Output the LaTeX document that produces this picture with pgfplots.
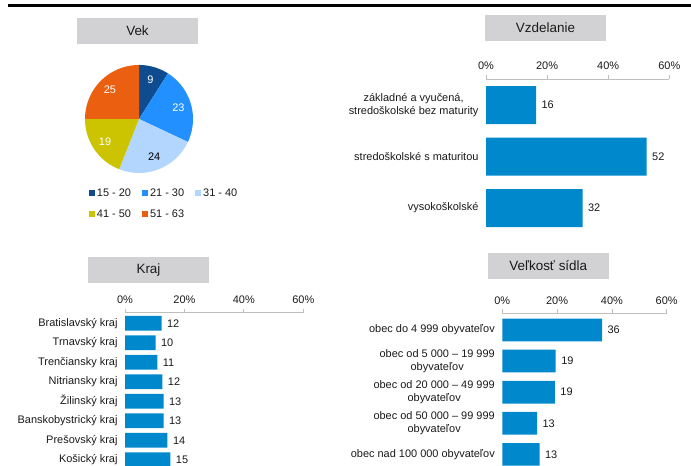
\documentclass[border=0pt]{standalone}
\usepackage{pgfplots}
\pgfplotsset{compat=1.18}
\usepackage{fontspec}
\setmainfont{Liberation Sans}
\definecolor{barblue}{HTML}{0088CC}
\definecolor{titlegray}{HTML}{D2D2D4}
\definecolor{c1}{HTML}{0F4C8F}
\definecolor{c2}{HTML}{2290FF}
\definecolor{c3}{HTML}{B3D6FF}
\definecolor{c4}{HTML}{CCC400}
\definecolor{c5}{HTML}{EB6010}
\definecolor{txt}{HTML}{1A1A1A}
\definecolor{axgray}{HTML}{BFBFBF}
\newcommand{\lbl}{\fontsize{11}{13.3}\selectfont}
\newcommand{\lblb}{\fontsize{11}{12.4}\selectfont}
\newcommand{\ttl}{\fontsize{13.5}{15}\selectfont}
\pgfplotsset{
  hbar/.style={
    xbar, scale only axis, enlargelimits=false,
    xmin=0, xmax=60, xtick={0,20,40,60},
    y dir=reverse,
    axis x line*=top, axis y line*=left,
    x axis line style={draw=axgray, line width=0.8bp, -},
    y axis line style={draw=none},
    xtick style={draw=axgray, line width=0.8bp},
    ytick style={draw=none},
    tick align=outside, major tick length=4bp,
    xticklabel={\pgfmathprintnumber{\tick}\%},
    /pgf/number format/assume math mode=true,
    xticklabel style={font=\lbl, text=txt, yshift=1.5bp},
    yticklabel style={font=\lbl, text=txt, align=center},
    ytick=data,
    bar shift=0pt,
    point meta=explicit symbolic,
    nodes near coords,
    nodes near coords style={font=\lbl, text=txt, anchor=west, xshift=2bp},
    anchor=north west,
  }
}
\begin{document}
\begin{tikzpicture}[x=1bp,y=1bp]
\useasboundingbox (0,0) rectangle (691,466);
% top rule
\draw[line width=2.6bp, black] (8,460.7) -- (691,460.7);
% title boxes
\fill[titlegray] (77,422.3) rectangle (198,448);
\node[font=\ttl, text=txt] at (137.5,435.2) {Vek};
\fill[titlegray] (485,425.3) rectangle (606,451);
\node[font=\ttl, text=txt] at (545.5,438.2) {Vzdelanie};
\fill[titlegray] (88,183.3) rectangle (209,209.3);
\node[font=\ttl, text=txt] at (148.5,196.3) {Kraj};
\fill[titlegray] (488,187.3) rectangle (608.7,212.7);
\node[font=\ttl, text=txt] at (548.3,200) {Veľkosť sídla};

% ---- Vek (pie): values 9, 23, 24, 19, 25 (clockwise from top)
\begin{axis}[at={(139bp,347bp)}, anchor=center, scale only axis,
  width=108bp, height=108bp, xmin=-1, xmax=1, ymin=-1, ymax=1, hide axis,
  legend columns=3,
  legend style={at={(0.035,-0.125)}, anchor=north west, draw=none, fill=none,
    font=\lbl, text=txt, inner sep=0pt, row sep=8bp,
    /tikz/every even column/.append style={column sep=9bp}},
  legend image code/.code={\fill[#1] (0bp,-3bp) rectangle (6bp,3bp);},
  legend cell align=left]
\addplot[fill=c1, draw=none, domain=90-3.6*9:90, samples=30] ({cos(x)},{sin(x)}) -- (axis cs:0,0) -- cycle;
\addlegendentry{15 - 20}
\addplot[fill=c2, draw=none, domain=90-3.6*32:90-3.6*9, samples=40] ({cos(x)},{sin(x)}) -- (axis cs:0,0) -- cycle;
\addlegendentry{21 - 30}
\addplot[fill=c3, draw=none, domain=90-3.6*56:90-3.6*32, samples=40] ({cos(x)},{sin(x)}) -- (axis cs:0,0) -- cycle;
\addlegendentry{31 - 40}
\addplot[fill=c4, draw=none, domain=90-3.6*75:90-3.6*56, samples=40] ({cos(x)},{sin(x)}) -- (axis cs:0,0) -- cycle;
\addlegendentry{41 - 50}
\addplot[fill=c5, draw=none, domain=90-3.6*100:90-3.6*75, samples=40] ({cos(x)},{sin(x)}) -- (axis cs:0,0) -- cycle;
\addlegendentry{51 - 63}
\node[font=\lbl, text=white] at (axis cs:{0.76*cos(90-3.6*4.5)},{0.76*sin(90-3.6*4.5)}) {9};
\node[font=\lbl, text=white] at (axis cs:{0.76*cos(90-3.6*20.5)},{0.76*sin(90-3.6*20.5)}) {23};
\node[font=\lbl, text=black] at (axis cs:{0.76*cos(90-3.6*44)},{0.76*sin(90-3.6*44)}) {24};
\node[font=\lbl, text=white] at (axis cs:{0.76*cos(90-3.6*65.5)},{0.76*sin(90-3.6*65.5)}) {19};
\node[font=\lbl, text=white] at (axis cs:{0.76*cos(90-3.6*87.5)},{0.76*sin(90-3.6*87.5)}) {25};
\end{axis}

% ---- Vzdelanie
\begin{axis}[hbar, at={(486bp,387bp)}, width=183.3bp, height=154.8bp,
  ymin=-0.505, ymax=2.5, bar width=38bp,
  yticklabels={{základné a vyučená,\\stredoškolské bez maturity},{stredoškolské s maturitou},{vysokoškolské}}]
\addplot[fill=barblue, draw=none] coordinates {(16.4,0) [16] (52.6,1) [52] (31.6,2) [32]};
\end{axis}

% ---- Kraj
\begin{axis}[hbar, at={(125bp,153.3bp)}, width=178.3bp, height=154.9bp,
  ymin=-0.544, ymax=7.4, bar width=14.7bp,
  yticklabels={{Bratislavský kraj},{Trnavský kraj},{Trenčiansky kraj},{Nitriansky kraj},{Žilinský kraj},{Banskobystrický kraj},{Prešovský kraj},{Košický kraj}}]
\addplot[fill=barblue, draw=none] coordinates {(12.3,0) [12] (10.3,1) [10] (10.9,2) [11] (12.6,3) [12] (13.0,4) [13] (13.0,5) [13] (14.3,6) [14] (15.3,7) [15]};
\end{axis}

% ---- Velkost sidla
\begin{axis}[hbar, at={(502.3bp,152.7bp)}, width=164.4bp, height=153.5bp,
  ymin=-0.537, ymax=4.4, bar width=22.7bp,
  yticklabel style={font=\lblb},
  yticklabels={{obec do 4 999 obyvateľov},{obec od 5 000 – 19 999\\obyvateľov},{obec od 20 000 – 49 999\\obyvateľov},{obec od 50 000 – 99 999\\obyvateľov},{obec nad 100 000 obyvateľov}}]
\addplot[fill=barblue, draw=none] coordinates {(36.4,0) [36] (19.5,1) [19] (19.2,2) [19] (12.7,3) [13] (13.6,4) [13]};
\end{axis}
\end{tikzpicture}
\end{document}
